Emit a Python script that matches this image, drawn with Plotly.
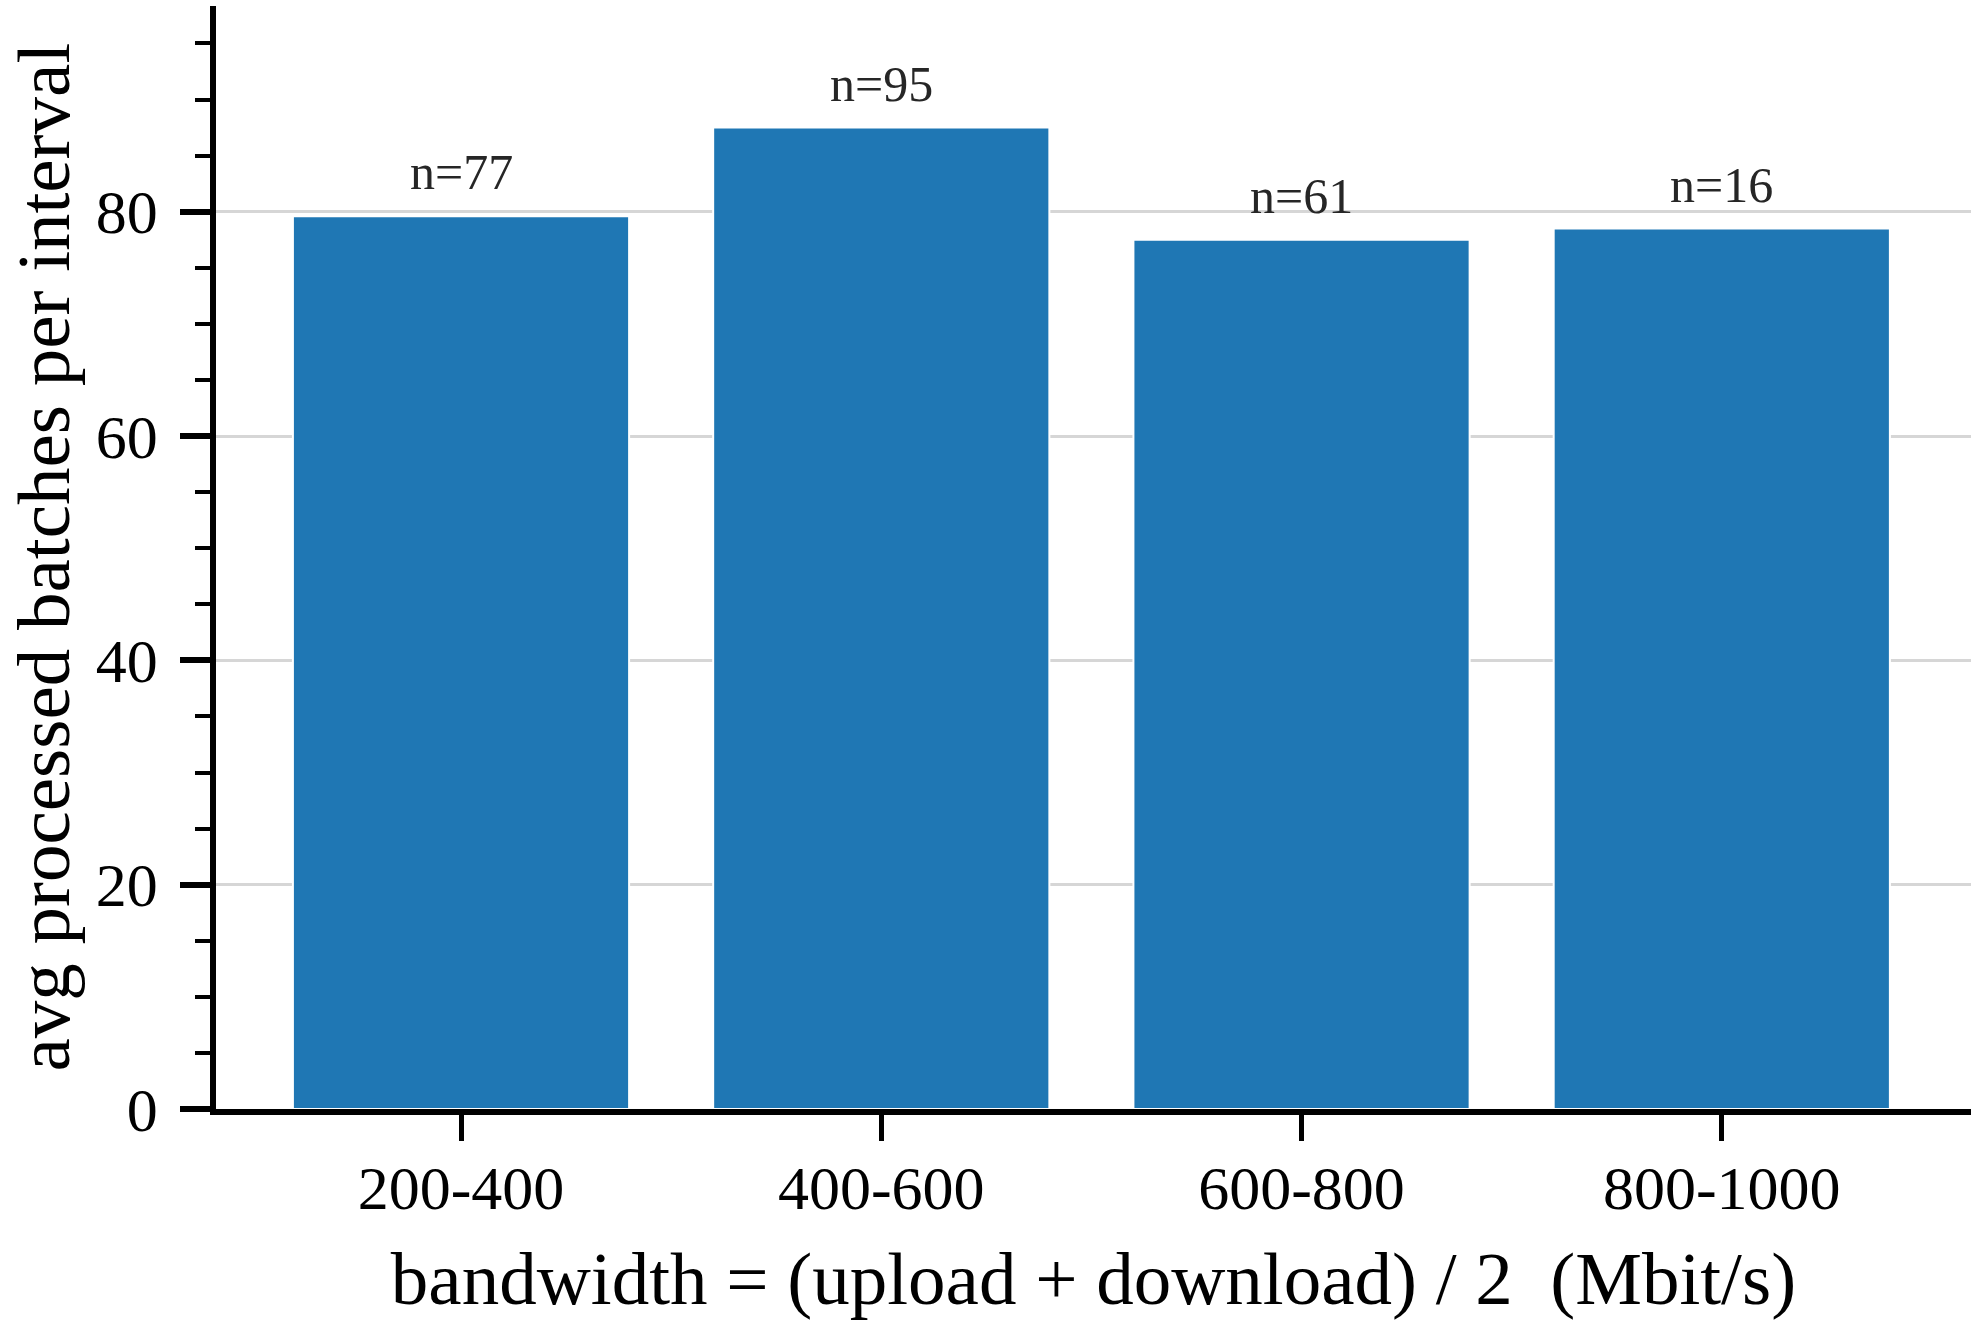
import plotly.graph_objects as go

categories = ["200-400", "400-600", "600-800", "800-1000"]
values = [79.6, 87.5, 77.5, 78.5]
counts = [77, 95, 61, 16]
xtitle = "bandwidth = (upload + download) / 2\u00a0\u00a0(Mbit/s)"
ytitle = "avg processed batches per interval"

FONT = "Liberation Serif"
W, H = 1979, 1330
ML, MR, MT, MB = 216, 8, 6, 221
xpos = list(range(len(categories)))

fig = go.Figure()
fig.add_trace(go.Bar(
    x=xpos, y=values, width=0.8,
    marker=dict(color="#1f77b4", line=dict(color="white", width=2)),
    showlegend=False, hoverinfo="skip",
))

for xi, v, n in zip(xpos, values, counts):
    fig.add_annotation(x=xi, y=v, text=f"n={n}", showarrow=False,
                       yanchor="bottom", yshift=14,
                       font=dict(family=FONT, size=50, color="#262626"))

# y-axis title placed as a rotated annotation
plot_w = W - ML - MR
fig.add_annotation(
    xref="paper", yref="paper", x=(43 - ML) / plot_w, y=0.5,
    xanchor="center", yanchor="middle", textangle=-90, showarrow=False,
    text=ytitle, font=dict(family=FONT, size=75, color="black"),
)

fig.update_layout(
    width=W, height=H,
    margin=dict(l=ML, r=MR, t=MT, b=MB),
    paper_bgcolor="white", plot_bgcolor="white",
    font=dict(family=FONT, color="black"),
    bargap=0.2,
)
fig.update_xaxes(
    range=[-0.583, 3.593], automargin=False,
    tickmode="array", tickvals=xpos, ticktext=categories,
    ticks="outside", ticklen=26, tickwidth=5, tickcolor="black",
    showline=True, linecolor="black", linewidth=5.5,
    showgrid=False, zeroline=False,
    tickfont=dict(family=FONT, size=62, color="black"),
    ticklabelstandoff=-6,
    title=dict(text=xtitle, font=dict(family=FONT, size=75, color="black"), standoff=32),
)
fig.update_yaxes(
    range=[0, 98.34], automargin=False,
    tickmode="linear", tick0=0, dtick=20,
    ticks="outside", ticklen=30, tickwidth=5.5, tickcolor="black",
    minor=dict(dtick=5, ticks="outside", ticklen=15, tickwidth=4, tickcolor="black", showgrid=False),
    showline=True, linecolor="black", linewidth=5.5,
    showgrid=True, gridcolor="#d6d6d6", gridwidth=2.5,
    zeroline=False,
    tickfont=dict(family=FONT, size=62, color="black"),
    ticklabelstandoff=10,
)

fig.write_html("out.html")
